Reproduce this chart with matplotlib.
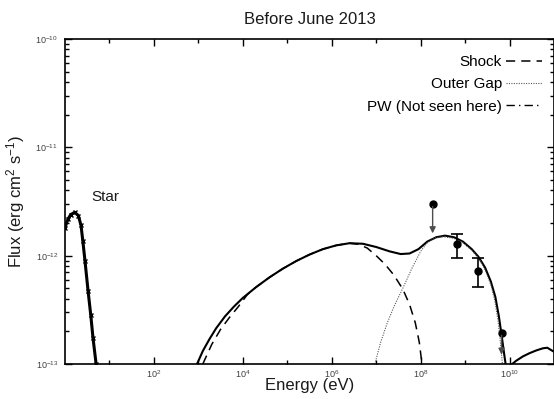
import numpy as np
import matplotlib
matplotlib.use("Agg")
import matplotlib.pyplot as plt
from matplotlib.ticker import LogLocator, NullFormatter, FixedLocator

plt.rcParams['font.family'] = ['Liberation Sans', 'DejaVu Sans']
plt.rcParams['mathtext.fontset'] = 'custom'
plt.rcParams['mathtext.rm'] = 'Liberation Sans'
plt.rcParams['mathtext.it'] = 'Liberation Sans'

# values, as log10(E/eV) and log10(flux)
star_logE = [0.0, 0.07, 0.13, 0.22, 0.30, 0.36, 0.40, 0.45, 0.52, 0.58, 0.63, 0.70]
star_logF = [-11.74, -11.66, -11.62, -11.60, -11.63, -11.72, -11.86, -12.05, -12.33, -12.55, -12.76, -13.0]

total_logE = [2.97, 3.1, 3.25, 3.4, 3.6, 3.8, 4.0, 4.3, 4.6, 4.9, 5.2, 5.5, 5.8, 6.1, 6.4, 6.7,
              7.0, 7.3, 7.55, 7.75, 7.95, 8.15, 8.35, 8.55, 8.75, 8.95, 9.15, 9.3, 9.45, 9.58,
              9.68, 9.76, 9.83, 9.89, 9.93, 10.0, 10.15, 10.3, 10.45, 10.6, 10.75, 10.85, 10.97]
total_logF = [-13.0, -12.88, -12.77, -12.67, -12.56, -12.47, -12.39, -12.29, -12.20, -12.12, -12.05,
              -11.99, -11.94, -11.905, -11.885, -11.89, -11.92, -11.96, -11.985, -11.98, -11.94,
              -11.87, -11.83, -11.815, -11.83, -11.87, -11.94, -12.01, -12.11, -12.24, -12.38,
              -12.56, -12.76, -12.94, -13.05, -13.02, -12.97, -12.93, -12.90, -12.875, -12.855,
              -12.85, -12.88]

shock_logE = [3.10, 3.3, 3.5, 3.7, 3.9, 4.1, 4.3, 4.6, 4.9, 5.2, 5.5, 5.8, 6.1, 6.4, 6.6, 6.8,
              7.0, 7.2, 7.4, 7.6, 7.75, 7.88, 7.97, 8.03]
shock_logF = [-13.0, -12.82, -12.68, -12.57, -12.47, -12.36, -12.29, -12.20, -12.12, -12.05, -11.99,
              -11.94, -11.905, -11.885, -11.895, -11.93, -12.0, -12.08, -12.18, -12.31, -12.45,
              -12.62, -12.80, -13.0]

gap_logE = [6.97, 7.1, 7.25, 7.4, 7.6, 7.8, 8.0, 8.15, 8.3, 8.5, 8.75, 8.95, 9.15, 9.3, 9.45,
            9.58, 9.67, 9.74, 9.80, 9.84]
gap_logF = [-13.0, -12.80, -12.62, -12.47, -12.30, -12.12, -11.96, -11.88, -11.84, -11.825, -11.84,
            -11.88, -11.95, -12.02, -12.13, -12.27, -12.42, -12.6, -12.82, -13.0]

pt_logE = [8.81, 9.30]
pt_logF = [-11.89, -12.14]
pt_lo = [-12.02, -12.29]
pt_hi = [-11.80, -12.02]

ul_logE = [8.27, 9.82]
ul_logF = [-11.52, -12.71]
ul_tip = [-11.82, -12.94]

yticks = [1e-13, 1e-12, 1e-11, 1e-10]
xticks = [1e2, 1e4, 1e6, 1e8, 1e10]
xminor = [1e1, 1e3, 1e5, 1e7, 1e9]


def p10(v):
    return 10 ** np.array(v)


fig = plt.figure(figsize=(5.54, 3.99), dpi=100)
ax = fig.add_axes([65 / 554, 35 / 399, 489 / 554, 325 / 399])

ax.plot(p10(star_logE), p10(star_logF), color='k', lw=2.2, marker='x', ms=2.5, mew=1)
ax.plot(p10(total_logE), p10(total_logF), color='k', lw=1.5)
ax.plot(p10(shock_logE), p10(shock_logF), color='k', lw=1.1, ls=(0, (6, 4)), label='Shock')
ax.plot(p10(gap_logE), p10(gap_logF), color='0.35', lw=0.8, ls=(0, (1, 1.2)), label='Outer Gap')
ax.plot([], [], color='k', lw=1.0, ls=(0, (6, 3, 1, 3)), label='PW (Not seen here)')

yerr = [p10(pt_logF) - p10(pt_lo), p10(pt_hi) - p10(pt_logF)]
ax.errorbar(p10(pt_logE), p10(pt_logF), yerr=yerr, fmt='o', color='k', ms=5, capsize=4,
            elinewidth=1.2, capthick=1.2)
ax.plot(p10(ul_logE), p10(ul_logF), 'o', color='k', ms=5)
for e, f, t in zip(ul_logE, ul_logF, ul_tip):
    ax.annotate('', xy=(10 ** e, 10 ** t), xytext=(10 ** e, 10 ** f),
                arrowprops=dict(arrowstyle='-|>', color='0.3', lw=1.0, mutation_scale=9))

ax.set_xscale('log')
ax.set_yscale('log')
ax.set_xlim(1, 1e11)
ax.set_ylim(1e-13, 1e-10)

ax.xaxis.set_major_locator(FixedLocator(xticks))
ax.xaxis.set_minor_locator(FixedLocator(xminor))
ax.xaxis.set_minor_formatter(NullFormatter())
ax.yaxis.set_major_locator(FixedLocator(yticks))
ax.yaxis.set_minor_locator(LogLocator(base=10, subs=np.arange(2, 10)))
ax.yaxis.set_minor_formatter(NullFormatter())
ax.tick_params(which='both', direction='in', top=True, right=True, labelsize=6.5,
               labelcolor='0.25', width=1.0)
ax.tick_params(which='major', length=5, pad=5)
ax.tick_params(axis='x', which='major', pad=3)
ax.tick_params(which='minor', length=3)
for s in ax.spines.values():
    s.set_linewidth(1.2)

ax.set_title('Before June 2013', fontsize=12, pad=11, color='0.1')
ax.set_xlabel('Energy (eV)', fontsize=12, labelpad=-1, color='0.1')
ax.set_ylabel('Flux (erg cm$^{2}$ s$^{-1}$)', fontsize=12, labelpad=6, color='0.1')
ax.text(4.0, 3.2e-12, 'Star', fontsize=11, color='0.1')

ax.legend(loc='upper right', frameon=False, markerfirst=False, fontsize=11,
          handlelength=2.3, handletextpad=0.3, labelspacing=0.55,
          bbox_to_anchor=(0.987, 0.97), borderaxespad=0)

fig.savefig('out.png', dpi=100)
